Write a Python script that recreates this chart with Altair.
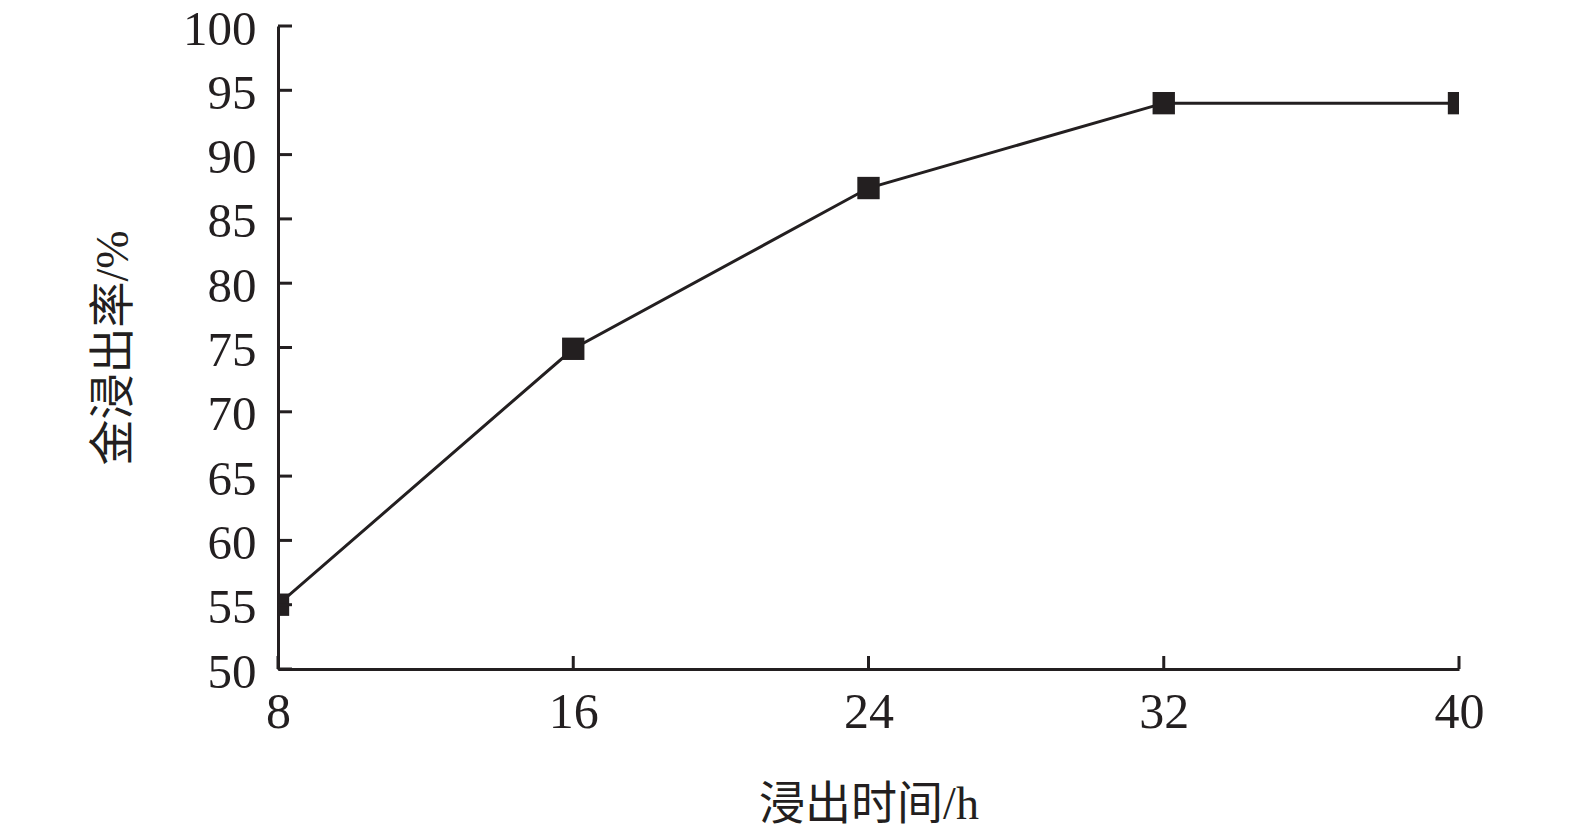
import altair as alt
import pandas as pd

hours = [8, 16, 24, 32, 40]
gold_leach = [55.0, 74.9, 87.4, 94.0, 94.0]
y_ticks = [50, 55, 60, 65, 70, 75, 80, 85, 90, 95, 100]
x_ticks = [8, 16, 24, 32, 40]

df = pd.DataFrame({"t": hours, "r": gold_leach})
dfy = pd.DataFrame({"v": y_ticks})
dfx = pd.DataFrame({"v": x_ticks})

FONT = "Liberation Serif, Times New Roman, Noto Sans CJK SC, serif"
INK = "#231f20"

xs = alt.Scale(domain=[8, 40], nice=False, zero=False)
ys = alt.Scale(domain=[50, 100], nice=False, zero=False)

xaxis = alt.Axis(values=x_ticks, title="浸出时间/h", grid=False, ticks=False,
                 labelFlush=False, labelOverlap=False,
                 domainColor=INK, domainWidth=3, labelFont=FONT, labelFontSize=50,
                 labelColor=INK, labelPadding=18, titleFont=FONT, titleFontSize=46,
                 titleFontWeight="normal", titleColor=INK, titlePadding=45)
yaxis = alt.Axis(values=y_ticks, title="金浸出率/%", grid=False, ticks=False,
                 labelFlush=False, labelOverlap=False, labelOffset=3,
                 domainColor=INK, domainWidth=3, labelFont=FONT, labelFontSize=49,
                 labelColor=INK, labelPadding=22, titleFont=FONT, titleFontSize=46,
                 titleFontWeight="normal", titleColor=INK, titlePadding=45)

line = alt.Chart(df).mark_line(color=INK, strokeWidth=3, clip=True).encode(
    x=alt.X("t:Q", scale=xs, axis=xaxis),
    y=alt.Y("r:Q", scale=ys, axis=yaxis),
)
pts = alt.Chart(df).mark_point(shape="square", filled=True, size=500, color=INK,
                               opacity=1, clip=True).encode(
    x=alt.X("t:Q", scale=xs, axis=xaxis),
    y=alt.Y("r:Q", scale=ys, axis=yaxis),
)
yt = alt.Chart(dfy).mark_rule(color=INK, strokeWidth=3).encode(
    y=alt.Y("v:Q", scale=ys, axis=yaxis),
    x=alt.value(0),
    x2=alt.value(14),
)
xt = alt.Chart(dfx).mark_rule(color=INK, strokeWidth=3).encode(
    x=alt.X("v:Q", scale=xs, axis=xaxis),
    y=alt.value(643),
    y2=alt.value(630),
)

chart = alt.layer(line, pts, yt, xt).properties(
    width=1181, height=643,
    autosize=alt.AutoSizeParams(type="none"),
    padding={"left": 270, "top": 18, "right": 90, "bottom": 164},
).configure(background="white").configure_axis(ticks=False, grid=False).configure_view(stroke=None)

chart.save("out.html", embed_options={"renderer": "svg", "actions": False})
